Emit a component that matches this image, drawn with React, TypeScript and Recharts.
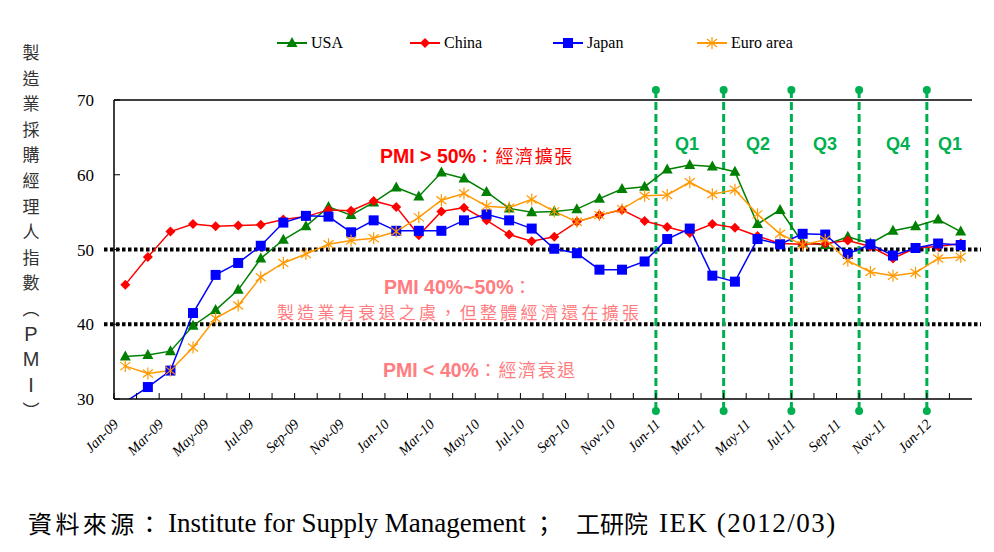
import React from "react";
import { LineChart, Line, XAxis, YAxis, ReferenceLine } from "recharts";

// Monthly manufacturing PMI, Jan-09 .. Feb-12
const months = [
  "Jan-09", "Feb-09", "Mar-09", "Apr-09", "May-09", "Jun-09", "Jul-09", "Aug-09", "Sep-09", "Oct-09", "Nov-09", "Dec-09",
  "Jan-10", "Feb-10", "Mar-10", "Apr-10", "May-10", "Jun-10", "Jul-10", "Aug-10", "Sep-10", "Oct-10", "Nov-10", "Dec-10",
  "Jan-11", "Feb-11", "Mar-11", "Apr-11", "May-11", "Jun-11", "Jul-11", "Aug-11", "Sep-11", "Oct-11", "Nov-11", "Dec-11",
  "Jan-12", "Feb-12",
];

const usa = [
  35.7, 35.9, 36.4, 39.8, 41.9, 44.6, 48.8, 51.3, 53.1, 55.7, 54.6, 56.3,
  58.3, 57.1, 60.3, 59.5, 57.7, 55.5, 55.0, 55.1, 55.4, 56.8, 58.1, 58.4,
  60.7, 61.3, 61.1, 60.4, 53.4, 55.3, 50.9, 50.6, 51.7, 50.8, 52.5, 53.1,
  54.0, 52.4,
];

const china = [
  45.3, 49.0, 52.4, 53.4, 53.1, 53.2, 53.3, 54.0, 54.4, 55.3, 55.2, 56.5,
  55.7, 51.9, 55.1, 55.6, 53.9, 52.0, 51.1, 51.7, 53.7, 54.6, 55.3, 53.8,
  53.0, 52.2, 53.4, 52.9, 51.8, 50.8, 50.7, 50.8, 51.2, 50.4, 48.8, 50.2,
  50.4, 50.8,
];

const japan = [
  29.6, 31.6, 33.8, 41.5, 46.6, 48.2, 50.5, 53.6, 54.5, 54.4, 52.3, 53.9,
  52.5, 52.5, 52.5, 53.9, 54.7, 53.9, 52.8, 50.1, 49.5, 47.3, 47.3, 48.4,
  51.4, 52.8, 46.5, 45.7, 51.4, 50.7, 52.1, 52.0, 49.4, 50.7, 49.2, 50.2,
  50.8, 50.6,
];

const euro = [
  34.4, 33.4, 33.8, 36.9, 40.8, 42.5, 46.3, 48.2, 49.4, 50.7, 51.2, 51.5,
  52.4, 54.3, 56.6, 57.5, 55.8, 55.6, 56.7, 55.1, 53.7, 54.6, 55.4, 57.2,
  57.3, 59.0, 57.4, 58.0, 54.7, 52.1, 50.6, 51.3, 48.5, 47.0, 46.5, 46.9,
  48.8, 49.0,
];

const yTicks = [30, 40, 50, 60, 70];
const thresholds = [50, 40];
// quarter dividers sit just before these months
const quarterStarts = ["Jan-11", "Apr-11", "Jul-11", "Oct-11", "Jan-12"];
const quarterLabels = ["Q1", "Q2", "Q3", "Q4", "Q1"];
const yLabelChars = ["製", "造", "業", "採", "購", "經", "理", "人", "指", "數", "︵", "P", "M", "I", "︶"];

const data = months.map((m, i) => ({
  month: m, usa: usa[i], china: china[i], japan: japan[i], euro: euro[i],
}));

const W = 994;
const H = 552;
const PLOT_L = 114;
const PLOT_R = 972;
const HALF_BAND = (PLOT_R - PLOT_L) / months.length / 2;

const GREEN = "#008000";
const RED = "#ff0000";
const BLUE = "#0000ff";
const ORANGE = "#ff9900";
const QGREEN = "#00b050";
const PINK = "#ff7c80";
const SERIF = "'Liberation Serif', 'Times New Roman', serif";
const SANS = "'Liberation Sans', Arial, sans-serif";
const CJK = "'Noto Sans CJK TC', 'Noto Sans CJK SC', sans-serif";

const Triangle = ({ cx, cy }: { cx: number; cy: number }) => (
  <polygon points={`${cx},${cy - 6} ${cx + 5.5},${cy + 4} ${cx - 5.5},${cy + 4}`} fill={GREEN} />
);
const Diamond = ({ cx, cy }: { cx: number; cy: number }) => (
  <polygon points={`${cx},${cy - 5} ${cx + 5},${cy} ${cx},${cy + 5} ${cx - 5},${cy}`} fill={RED} />
);
const Square = ({ cx, cy }: { cx: number; cy: number }) => (
  <rect x={cx - 5} y={cy - 5} width={10} height={10} fill={BLUE} />
);
const Star = ({ cx, cy }: { cx: number; cy: number }) => (
  <g stroke={ORANGE} strokeWidth={1.2}>
    <line x1={cx} y1={cy - 6} x2={cx} y2={cy + 6} />
    <line x1={cx - 5} y1={cy - 4} x2={cx + 5} y2={cy + 4} />
    <line x1={cx - 5} y1={cy + 4} x2={cx + 5} y2={cy - 4} />
  </g>
);

const makeDot = (name: string, Shape: any) => (p: any) => {
  if (p.value == null || p.value < 30 || p.cx == null) return <g key={`${name}-${p.index}`} />;
  return <Shape key={`${name}-${p.index}`} cx={p.cx} cy={p.cy} />;
};

const XTick = (p: any) => {
  const { x, y, index, payload } = p;
  const bx = x - HALF_BAND;
  return (
    <g>
      <line x1={bx} x2={bx} y1={y} y2={y - 6} stroke="#000" strokeWidth={1} />
      {index % 2 === 0 && (
        <text
          x={x - 6} y={y + 26} textAnchor="end" fontFamily={SERIF} fontStyle="italic" fontSize={14.5} fill="#000"
          transform={`rotate(-45, ${x - 6}, ${y + 26})`}
        >
          {payload.value}
        </text>
      )}
    </g>
  );
};

const YTick = (p: any) => {
  const { x, y, payload } = p;
  return (
    <g>
      <line x1={x} x2={x + 6} y1={y} y2={y} stroke="#000" strokeWidth={1} />
      <text x={x - 20} y={y + 6} textAnchor="end" fontFamily={SERIF} fontSize={17} fill="#000">
        {payload.value}
      </text>
    </g>
  );
};

const DottedLine = (p: any) => {
  const a = Math.min(p.x1, p.x2);
  const b = Math.max(p.x1, p.x2);
  return (
    <line x1={a - 10} x2={b + 9} y1={p.y1} y2={p.y2} stroke="#000" strokeWidth={4} strokeDasharray="3.5 2.5" />
  );
};

// divider drawn half a month to the left of the referenced month
const QuarterLine = (p: any) => {
  const x = p.x1 - HALF_BAND;
  const top = Math.min(p.y1, p.y2) - 10;
  const bot = Math.max(p.y1, p.y2) + 12;
  return (
    <g>
      <line x1={x} x2={x} y1={top} y2={bot} stroke={QGREEN} strokeWidth={3} strokeDasharray="8 4" />
      <circle cx={x} cy={top} r={4} fill={QGREEN} />
      <circle cx={x} cy={bot} r={4} fill={QGREEN} />
    </g>
  );
};

const legendItems = [
  { name: "USA", color: GREEN, Shape: Triangle, x: 277 },
  { name: "China", color: RED, Shape: Diamond, x: 410 },
  { name: "Japan", color: BLUE, Shape: Square, x: 553 },
  { name: "Euro area", color: ORANGE, Shape: Star, x: 697 },
];

const qCenters = [687, 758, 825, 898, 950];

export default function App() {
  return (
    <div style={{ position: "absolute", left: 0, top: 0, width: W, height: H, background: "#fff" }}>
      <LineChart width={W} height={H} data={data} margin={{ top: 100, right: 22, left: 0, bottom: 93 }}>
        <XAxis
          dataKey="month" interval={0} height={60} tickSize={0} tickMargin={0} tickLine={false}
          padding={{ left: HALF_BAND, right: HALF_BAND }}
          axisLine={{ stroke: "#000", strokeWidth: 1.5 }} tick={XTick}
        />
        <YAxis
          domain={[30, 70]} ticks={yTicks} allowDataOverflow width={114} tickSize={0} tickMargin={0}
          tickLine={false} axisLine={{ stroke: "#000", strokeWidth: 1.5 }} tick={YTick}
        />
        <YAxis
          yAxisId="frame" orientation="right" domain={[30, 70]} width={0} tick={false} tickLine={false}
          axisLine={{ stroke: "#000", strokeWidth: 1.5 }}
        />
        <ReferenceLine y={70} stroke="#000" strokeWidth={1.5} />
        {thresholds.map((t) => (
          <ReferenceLine key={t} y={t} shape={DottedLine} />
        ))}
        {quarterStarts.map((m) => (
          <ReferenceLine key={m} x={m} shape={QuarterLine} />
        ))}
        <Line dataKey="usa" stroke={GREEN} strokeWidth={1.5} dot={makeDot("usa", Triangle)} activeDot={false} isAnimationActive={false} />
        <Line dataKey="china" stroke={RED} strokeWidth={1.5} dot={makeDot("china", Diamond)} activeDot={false} isAnimationActive={false} />
        <Line dataKey="japan" stroke={BLUE} strokeWidth={1.5} dot={makeDot("japan", Square)} activeDot={false} isAnimationActive={false} />
        <Line dataKey="euro" stroke={ORANGE} strokeWidth={1.5} dot={makeDot("euro", Star)} activeDot={false} isAnimationActive={false} />
      </LineChart>

      {/* legend */}
      {legendItems.map((it) => (
        <div key={it.name} style={{ position: "absolute", left: it.x, top: 33, display: "flex", alignItems: "center" }}>
          <svg width={30} height={20}>
            <line x1={0} x2={30} y1={10} y2={10} stroke={it.color} strokeWidth={2} />
            <it.Shape cx={15} cy={10} />
          </svg>
          <span style={{ fontFamily: SERIF, fontSize: 16, marginLeft: 4, color: "#000" }}>{it.name}</span>
        </div>
      ))}

      {/* vertical y-axis title */}
      {yLabelChars.map((c, i) => (
        <div
          key={i}
          style={{
            position: "absolute", left: 16, width: 30, top: 52 + i * 25.6 - 12, height: 24, lineHeight: "24px",
            textAlign: "center", color: "#333",
            fontFamily: /[A-Z]/.test(c) ? SANS : CJK, fontSize: /[A-Z]/.test(c) ? 20 : 17,
          }}
        >
          {c}
        </div>
      ))}

      {/* quarter labels */}
      {quarterLabels.map((q, i) => (
        <div
          key={i}
          style={{
            position: "absolute", left: qCenters[i] - 20, width: 40, top: 134, textAlign: "center",
            fontFamily: SANS, fontWeight: "bold", fontSize: 18, color: QGREEN,
          }}
        >
          {q}
        </div>
      ))}

      {/* zone annotations */}
      <div style={{ position: "absolute", left: 380, top: 142, color: RED, whiteSpace: "nowrap", lineHeight: "26px" }}>
        <span style={{ fontFamily: SANS, fontWeight: "bold", fontSize: 19.5 }}>PMI &gt; 50%</span>
        <span style={{ fontFamily: CJK, fontSize: 18, letterSpacing: 1.6 }}>：經濟擴張</span>
      </div>
      <div style={{ position: "absolute", left: 384, top: 273, color: PINK, whiteSpace: "nowrap", lineHeight: "26px" }}>
        <span style={{ fontFamily: SANS, fontWeight: "bold", fontSize: 19.5 }}>PMI 40%~50%</span>
        <span style={{ fontFamily: CJK, fontSize: 18 }}>：</span>
      </div>
      <div style={{ position: "absolute", left: 277, top: 300, color: PINK, whiteSpace: "nowrap", lineHeight: "24px", fontFamily: CJK, fontSize: 17, letterSpacing: 3.3 }}>
        製造業有衰退之虞，但整體經濟還在擴張
      </div>
      <div style={{ position: "absolute", left: 383, top: 356, color: PINK, whiteSpace: "nowrap", lineHeight: "26px" }}>
        <span style={{ fontFamily: SANS, fontWeight: "bold", fontSize: 19.5 }}>PMI &lt; 40%</span>
        <span style={{ fontFamily: CJK, fontSize: 18, letterSpacing: 1.6 }}>：經濟衰退</span>
      </div>

      {/* source */}
      <div style={{ position: "absolute", left: 0, top: 506, width: W, height: 34, lineHeight: "34px", color: "#000", whiteSpace: "nowrap" }}>
        <span style={{ position: "absolute", left: 28, fontFamily: CJK, fontSize: 24, letterSpacing: 3.4 }}>資料來源：</span>
        <span style={{ position: "absolute", left: 168, fontFamily: SERIF, fontSize: 27 }}>Institute for Supply Management</span>
        <span style={{ position: "absolute", left: 532, fontFamily: CJK, fontSize: 24 }}>；</span>
        <span style={{ position: "absolute", left: 576, fontFamily: CJK, fontSize: 24 }}>工研院</span>
        <span style={{ position: "absolute", left: 659, fontFamily: SERIF, fontSize: 27, letterSpacing: 1.5 }}>IEK (2012/03)</span>
      </div>
    </div>
  );
}
